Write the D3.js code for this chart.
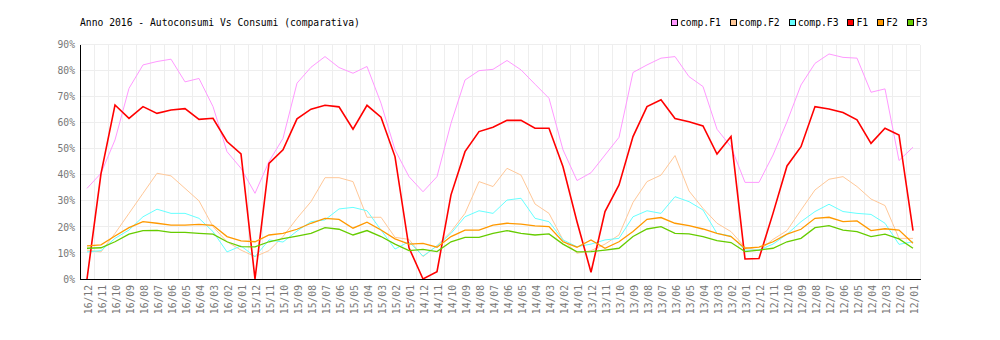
<!DOCTYPE html>
<html>
<head>
<meta charset="utf-8">
<script src="https://cdn.jsdelivr.net/npm/d3@7"></script>
<style>
  html, body { margin: 0; padding: 0; background: #fff; }
  svg { display: block; }
  text { font-family: "DejaVu Sans Mono", "Liberation Mono", monospace; }
</style>
</head>
<body>
<div id="chart"></div>
<script>
// Months, newest first
const categories = [
  "16/12","16/11","16/10","16/09","16/08","16/07","16/06","16/05","16/04","16/03","16/02","16/01",
  "15/12","15/11","15/10","15/09","15/08","15/07","15/06","15/05","15/04","15/03","15/02","15/01",
  "14/12","14/11","14/10","14/09","14/08","14/07","14/06","14/05","14/04","14/03","14/02","14/01",
  "13/12","13/11","13/10","13/09","13/08","13/07","13/06","13/05","13/04","13/03","13/02","13/01",
  "12/12","12/11","12/10","12/09","12/08","12/07","12/06","12/05","12/04","12/03","12/02","12/01"
];

const compF1 = [
  34.8, 40.6, 53.4, 73.2, 82.2, 83.5, 84.4, 75.7, 77.0, 66.2, 48.9, 42.5,
  32.9, 45.1, 54.0, 75.2, 81.3, 85.4, 81.2, 79.0, 81.6, 67.5, 49.6, 39.3,
  33.5, 39.3, 59.8, 76.4, 80.0, 80.5, 83.9, 80.3, 74.8, 69.4, 49.6, 37.8,
  40.8, 47.6, 54.4, 79.3, 82.2, 84.8, 85.4, 77.7, 73.9, 57.5, 50.8, 37.1,
  37.1, 47.6, 60.4, 74.5, 82.8, 86.4, 85.1, 84.8, 71.7, 73.0, 45.5, 50.6
];
const compF2 = [
  11.1, 10.4, 17.5, 25.2, 32.9, 40.6, 39.6, 34.8, 30.0, 20.1, 14.3, 11.1,
  8.6, 10.9, 16.3, 23.3, 29.7, 38.9, 38.9, 37.4, 23.7, 23.7, 16.0, 15.2,
  8.6, 12.8, 18.2, 25.2, 37.4, 35.5, 42.5, 39.9, 28.8, 25.2, 15.0, 9.9,
  10.9, 13.4, 16.9, 29.4, 37.4, 39.9, 47.4, 33.8, 27.1, 21.4, 18.2, 12.2,
  10.9, 15.2, 18.6, 26.5, 34.2, 38.3, 39.3, 35.5, 30.7, 28.2, 15.6, 15.6
];
const compF3 = [
  10.4, 10.9, 15.6, 18.8, 23.9, 26.8, 25.2, 25.2, 23.3, 18.2, 10.4, 12.7,
  8.6, 15.0, 14.2, 18.4, 22.0, 22.7, 26.9, 27.5, 26.2, 18.8, 11.5, 14.3,
  8.8, 12.7, 17.5, 23.9, 26.2, 25.2, 30.3, 31.0, 23.3, 22.0, 15.0, 12.4,
  13.4, 15.0, 15.6, 23.9, 26.2, 25.2, 31.6, 29.7, 26.5, 17.5, 16.5, 11.1,
  11.1, 13.4, 17.2, 22.0, 25.9, 28.7, 25.9, 25.2, 24.8, 21.4, 13.3, 14.3
];
const f1 = [
  0, 40.5, 66.8, 61.7, 66.2, 63.6, 64.9, 65.4, 61.3, 61.7, 52.8, 48.0,
  0, 44.4, 49.6, 61.5, 65.2, 66.7, 66.1, 57.5, 66.7, 62.1, 47.0, 12.0,
  0, 2.8, 32.3, 48.9, 56.6, 58.3, 60.9, 60.9, 57.9, 57.9, 43.1, 22.0,
  2.6, 25.9, 36.1, 54.7, 66.2, 68.8, 61.6, 60.4, 58.8, 48.0, 54.7, 7.7,
  7.9, 25.2, 43.4, 50.8, 66.2, 65.3, 63.9, 61.1, 52.1, 57.9, 55.3, 18.6
];
const f2 = [
  12.7, 13.1, 16.5, 19.7, 22.0, 21.4, 20.7, 20.7, 21.0, 20.6, 16.3, 14.6,
  14.3, 16.9, 17.5, 19.1, 21.4, 23.3, 22.9, 19.5, 21.8, 18.8, 15.4, 13.4,
  13.7, 12.2, 16.3, 18.8, 18.8, 20.7, 21.4, 21.1, 20.4, 20.1, 14.3, 12.2,
  15.0, 11.8, 14.3, 18.2, 22.9, 23.6, 21.4, 20.5, 19.2, 17.5, 16.3, 11.8,
  12.2, 14.3, 17.2, 19.1, 23.3, 23.7, 22.0, 22.3, 18.6, 19.3, 18.8, 13.7
];
const f3 = [
  11.8, 12.0, 14.3, 17.2, 18.6, 18.7, 17.9, 17.9, 17.5, 17.2, 14.3, 12.4,
  12.3, 14.3, 15.5, 16.5, 17.5, 19.7, 19.1, 16.9, 18.6, 16.3, 13.4, 10.9,
  11.4, 10.5, 14.3, 16.0, 16.0, 17.5, 18.6, 17.5, 16.9, 17.3, 13.4, 10.4,
  10.5, 11.1, 11.8, 16.3, 19.2, 20.1, 17.5, 17.3, 16.3, 14.7, 14.0, 10.5,
  11.1, 11.8, 14.3, 15.6, 19.7, 20.5, 18.8, 18.2, 16.3, 17.2, 15.4, 11.8
];

const yTicks = [0, 10, 20, 30, 40, 50, 60, 70, 80, 90];
const seriesNames = ["comp.F1", "comp.F2", "comp.F3", "F1", "F2", "F3"];
const seriesValues = [compF1, compF2, compF3, f1, f2, f3];
const seriesColors = ["#ff99ff", "#ffc898", "#66ffff", "#ff0000", "#ff9900", "#66cc00"];
const seriesWidths = [1, 1, 1, 1.6, 1.3, 1.3];

const W = 1000, H = 340;
const margin = { left: 80, right: 80, top: 44.6, bottom: 61 };

const svg = d3.select("#chart").append("svg")
  .attr("width", W).attr("height", H);

const x = d3.scaleBand()
  .domain(categories)
  .range([margin.left, W - margin.right]);

const y = d3.scaleLinear()
  .domain([0, 90])
  .range([H - margin.bottom, margin.top]);

const cx = d => x(d) + x.bandwidth() / 2;

// Grid
const grid = svg.append("g").attr("shape-rendering", "crispEdges");
grid.selectAll("line.v")
  .data(categories.slice(1).concat(["__end"]))
  .join("line")
  .attr("class", "v")
  .attr("x1", (d, i) => i < categories.length - 1 ? x(d) : x.range()[1])
  .attr("x2", (d, i) => i < categories.length - 1 ? x(d) : x.range()[1])
  .attr("y1", y(90)).attr("y2", y(0))
  .attr("stroke", "#eeeeee");
grid.selectAll("line.h")
  .data(yTicks.filter(t => t > 0))
  .join("line")
  .attr("class", "h")
  .attr("x1", margin.left).attr("x2", W - margin.right)
  .attr("y1", d => y(d)).attr("y2", d => y(d))
  .attr("stroke", "#eeeeee");

// Series lines
const line = d3.line()
  .x((d, i) => cx(categories[i]))
  .y(d => y(d));

svg.append("g").selectAll("path")
  .data(seriesValues)
  .join("path")
  .attr("d", d => line(d))
  .attr("fill", "none")
  .attr("stroke", (d, i) => seriesColors[i])
  .attr("stroke-width", (d, i) => seriesWidths[i])
  .attr("stroke-linejoin", "miter");

// Axes
const yAxis = d3.axisLeft(y).tickValues(yTicks).tickSize(0).tickPadding(5)
  .tickFormat(d => d + "%");
const gy = svg.append("g")
  .attr("transform", `translate(${margin.left},0)`)
  .call(yAxis);
gy.select(".domain").attr("stroke", "#000").attr("shape-rendering", "crispEdges");
gy.selectAll("text")
  .attr("font-family", "DejaVu Sans Mono")
  .attr("font-size", "9.7px")
  .attr("fill", "#777");

const xAxis = d3.axisBottom(x).tickSize(0).tickPadding(0);
const gx = svg.append("g")
  .attr("transform", `translate(0,${y(0)})`)
  .call(xAxis);
gx.select(".domain").attr("stroke", "#000").attr("stroke-width", 1.3)
  .attr("shape-rendering", "crispEdges");
gx.selectAll(".tick text")
  .attr("font-family", "DejaVu Sans Mono")
  .attr("font-size", "9.7px")
  .attr("fill", "#777")
  .attr("text-anchor", "end")
  .attr("dy", null)
  .attr("y", 0)
  .attr("dominant-baseline", "central")
  .attr("transform", "translate(1.5,6) rotate(-90)");

// Title
svg.append("text")
  .attr("x", 80).attr("y", 26)
  .attr("font-size", "9.7px")
  .attr("fill", "#000")
  .text("Anno 2016 - Autoconsumi Vs Consumi (comparativa)");

// Legend
const legend = svg.append("g");
let lx = 671;
seriesNames.forEach((name, i) => {
  legend.append("rect")
    .attr("x", lx + 0.5).attr("y", 19.5)
    .attr("width", 6).attr("height", 6)
    .attr("fill", seriesColors[i])
    .attr("stroke", "#000").attr("stroke-width", 1)
    .attr("shape-rendering", "crispEdges");
  const t = legend.append("text")
    .attr("x", lx + 9).attr("y", 26)
    .attr("font-size", "9.7px")
    .attr("fill", "#000")
    .text(name);
  lx += 9 + t.node().getComputedTextLength() + 9;
});
</script>
</body>
</html>
